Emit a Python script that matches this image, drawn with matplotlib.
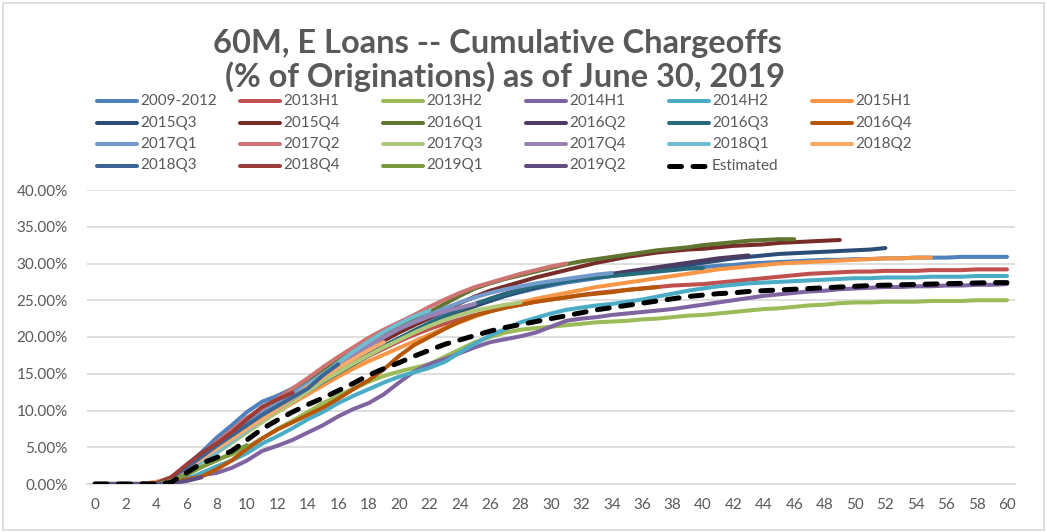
import matplotlib
matplotlib.use('Agg')
import matplotlib.pyplot as plt
from matplotlib.lines import Line2D
from matplotlib.patches import Rectangle
from matplotlib.ticker import FuncFormatter

plt.rcParams['font.family'] = ['Lato', 'DejaVu Sans']

# ---------------- data (cumulative chargeoffs, % of originations) -------------
x_ticks = list(range(0, 61, 2))
y_ticks = [0, 5, 10, 15, 20, 25, 30, 35, 40]

names = ["2009-2012", "2013H1", "2013H2", "2014H1", "2014H2", "2015H1",
         "2015Q3", "2015Q4", "2016Q1", "2016Q2", "2016Q3", "2016Q4",
         "2017Q1", "2017Q2", "2017Q3", "2017Q4", "2018Q1", "2018Q2",
         "2018Q3", "2018Q4", "2019Q1", "2019Q2"]

s_2009_2012 = [0, 0, 0, 0, 0.1, 0.8, 2.5, 4.3, 6.3, 8.0,
               9.8, 11.2, 12.0, 13.0, 14.0, 15.3, 16.5, 17.6, 18.7, 19.8,
               20.8, 21.7, 22.5, 23.2, 23.9, 24.5, 25.1, 25.6, 26.1, 26.6,
               27.0, 27.4, 27.7, 28.0, 28.3, 28.6, 28.8, 29.0, 29.2, 29.4,
               29.5, 29.7, 29.8, 30.0, 30.1, 30.2, 30.3, 30.4, 30.5, 30.5,
               30.6, 30.6, 30.7, 30.7, 30.8, 30.8, 30.8, 30.9, 30.9, 30.9, 30.9]
s_2013H1 = [0, 0, 0, 0, 0.1, 0.7, 2.2, 3.8, 5.6, 7.3,
            9.0, 10.3, 11.0, 11.8, 12.8, 14.0, 15.2, 16.3, 17.4, 18.4,
            19.4, 20.3, 21.1, 21.8, 22.4, 23.0, 23.5, 24.0, 24.4, 24.8,
            25.1, 25.4, 25.7, 26.0, 26.2, 26.4, 26.6, 26.8, 27.0, 27.1,
            27.2, 27.4, 27.6, 27.8, 28.0, 28.2, 28.4, 28.6, 28.7, 28.8,
            28.9, 28.9, 29.0, 29.0, 29.0, 29.1, 29.1, 29.1, 29.2, 29.2, 29.2]
s_2013H2 = [0, 0, 0, 0, 0, 0.3, 1.2, 2.3, 3.3, 4.0,
            5.0, 6.2, 7.5, 8.6, 9.8, 11.0, 12.0, 13.0, 13.9, 14.7,
            15.3, 15.8, 16.3, 17.3, 18.3, 19.3, 20.0, 20.6, 21.0, 21.2,
            21.4, 21.6, 21.8, 22.0, 22.1, 22.2, 22.4, 22.5, 22.7, 22.9,
            23.0, 23.2, 23.4, 23.6, 23.8, 23.9, 24.1, 24.3, 24.4, 24.6,
            24.7, 24.7, 24.8, 24.8, 24.8, 24.9, 24.9, 24.9, 25.0, 25.0, 25.0]
s_2014H1 = [0, 0, 0, 0, 0, 0.2, 0.8, 1.2, 1.5, 2.2,
            3.2, 4.5, 5.2, 6.0, 7.0, 8.0, 9.2, 10.2, 11.0, 12.2,
            13.8, 15.3, 16.3, 17.0, 17.8, 18.6, 19.3, 19.7, 20.1, 20.6,
            21.4, 22.2, 22.5, 22.7, 23.0, 23.2, 23.4, 23.6, 23.8, 24.1,
            24.4, 24.7, 25.0, 25.3, 25.6, 25.8, 26.0, 26.2, 26.3, 26.5,
            26.6, 26.7, 26.8, 26.8, 26.9, 26.9, 27.0, 27.0, 27.1, 27.1, 27.2]
s_2014H2 = [0, 0, 0, 0, 0, 0.1, 0.6, 1.5, 2.4, 3.2,
            4.2, 5.5, 6.5, 7.6, 8.8, 9.8, 11.0, 12.0, 12.9, 13.8,
            14.6, 15.2, 15.8, 16.6, 17.9, 19.1, 20.2, 21.1, 22.0, 22.6,
            23.2, 23.7, 24.0, 24.3, 24.5, 24.8, 25.1, 25.5, 25.9, 26.3,
            26.6, 26.9, 27.1, 27.3, 27.4, 27.5, 27.6, 27.7, 27.8, 27.9,
            28.0, 28.0, 28.1, 28.1, 28.1, 28.2, 28.2, 28.2, 28.3, 28.3, 28.3]
s_2015H1 = [0, 0, 0, 0, 0.2, 0.6, 1.8, 3.2, 4.8, 6.2,
            7.6, 8.8, 9.8, 11.0, 12.2, 13.4, 14.6, 15.7, 16.7, 17.6,
            18.5, 19.4, 20.3, 21.2, 22.0, 22.8, 23.5, 24.1, 24.7, 25.2,
            25.6, 26.0, 26.4, 26.8, 27.1, 27.4, 27.7, 28.0, 28.3, 28.6,
            28.9, 29.2, 29.4, 29.6, 29.8, 30.0, 30.1, 30.2, 30.3, 30.4,
            30.5, 30.6, 30.7, 30.7, 30.8, 30.8]
s_2015Q3 = [0, 0, 0, 0, 0.1, 0.7, 2.0, 3.6, 5.2, 6.6,
            8.0, 9.2, 10.4, 11.6, 12.9, 14.2, 15.4, 16.6, 17.7, 18.8,
            19.8, 20.8, 21.7, 22.6, 23.4, 24.2, 24.9, 25.6, 26.2, 26.7,
            27.2, 27.6, 28.0, 28.3, 28.5, 28.7, 28.9, 29.2, 29.5, 29.8,
            30.1, 30.4, 30.7, 30.9, 31.1, 31.3, 31.4, 31.5, 31.6, 31.7,
            31.8, 31.9, 32.1]
s_2015Q4 = [0, 0, 0, 0, 0.1, 0.8, 2.2, 3.8, 5.4, 6.8,
            8.2, 9.5, 10.8, 12.1, 13.4, 14.7, 16.0, 17.2, 18.4, 19.5,
            20.6, 21.6, 22.6, 23.6, 24.6, 25.5, 26.3, 26.9, 27.5, 28.1,
            28.6, 29.1, 29.6, 30.1, 30.5, 30.9, 31.2, 31.5, 31.7, 31.9,
            32.0, 32.2, 32.4, 32.5, 32.6, 32.8, 32.9, 33.0, 33.1, 33.2]
s_2016Q1 = [0, 0, 0, 0, 0.1, 0.9, 2.3, 3.9, 5.5, 7.0,
            8.5, 9.9, 11.3, 12.7, 14.1, 15.5, 16.8, 18.0, 19.2, 20.3,
            21.4, 22.4, 23.4, 24.5, 25.6, 26.6, 27.3, 27.9, 28.4, 28.9,
            29.4, 29.9, 30.3, 30.6, 30.9, 31.2, 31.5, 31.8, 32.0, 32.2,
            32.5, 32.7, 32.9, 33.1, 33.2, 33.3, 33.3]
s_2016Q2 = [0, 0, 0, 0, 0.1, 0.7, 2.0, 3.4, 4.9, 6.3,
            7.7, 9.0, 10.3, 11.5, 12.8, 14.0, 15.2, 16.4, 17.6, 18.7,
            19.8, 20.8, 21.8, 22.7, 23.6, 24.4, 25.2, 25.9, 26.5, 27.0,
            27.4, 27.7, 28.0, 28.3, 28.6, 28.9, 29.2, 29.5, 29.8, 30.1,
            30.4, 30.7, 30.9, 31.1]
s_2016Q3 = [0, 0, 0, 0, 0.1, 0.6, 1.8, 3.2, 4.6, 6.0,
            7.4, 8.7, 10.0, 11.3, 12.6, 13.9, 15.1, 16.3, 17.5, 18.7,
            19.8, 20.9, 21.9, 22.8, 23.7, 24.5, 25.2, 25.8, 26.4, 26.9,
            27.3, 27.6, 27.9, 28.1, 28.3, 28.5, 28.7, 28.9, 29.1, 29.3,
            29.4]
s_2016Q4 = [0, 0, 0, 0, 0, 0.2, 0.6, 1.0, 2.0, 3.2,
            4.8, 6.2, 7.4, 8.4, 9.4, 10.4, 11.6, 12.9, 14.1, 15.6,
            17.4, 18.9, 20.0, 21.1, 22.1, 22.9, 23.5, 24.0, 24.4, 24.8,
            25.1, 25.4, 25.7, 25.9, 26.1, 26.4, 26.6, 26.8]
s_2017Q1 = [0, 0, 0, 0, 0.1, 0.8, 2.2, 3.8, 5.3, 6.8,
            8.3, 9.7, 11.0, 12.3, 13.6, 15.0, 16.3, 17.6, 18.8, 20.0,
            21.1, 22.1, 23.0, 23.9, 24.7, 25.4, 26.0, 26.5, 26.9, 27.3,
            27.6, 27.9, 28.2, 28.5, 28.7]
s_2017Q2 = [0, 0, 0, 0, 0.1, 0.9, 2.4, 4.0, 5.7, 7.3,
            8.9, 10.3, 11.6, 13.0, 14.4, 15.9, 17.3, 18.6, 19.9, 21.0,
            22.0, 23.0, 24.1, 25.1, 26.0, 26.8, 27.4, 28.0, 28.6, 29.1,
            29.6, 30.0]
s_2017Q3 = [0, 0, 0, 0, 0, 0.5, 1.6, 2.9, 4.2, 5.6,
            7.0, 8.4, 9.8, 11.2, 12.6, 14.0, 15.2, 16.4, 17.5, 18.6,
            19.6, 20.6, 21.5, 22.3, 23.0, 23.6, 24.0, 24.4, 24.7]
s_2017Q4 = [0, 0, 0, 0, 0, 0.6, 1.8, 3.1, 4.5, 5.9,
            7.3, 8.8, 10.2, 11.6, 13.1, 14.6, 16.0, 17.4, 18.7, 20.0,
            21.1, 22.0, 22.8, 23.5, 24.0, 24.5]
s_2018Q1 = [0, 0, 0, 0, 0, 0.5, 1.7, 3.0, 4.3, 5.8,
            7.3, 8.8, 10.3, 11.8, 13.3, 14.9, 16.5, 18.0, 19.4, 20.7,
            21.8, 22.8, 23.6]
s_2018Q2 = [0, 0, 0, 0, 0.3, 0.8, 2.0, 3.4, 4.8, 6.1,
            7.5, 8.8, 10.2, 11.7, 13.2, 14.5, 15.8, 17.0, 18.2, 19.3]
s_2018Q3 = [0, 0, 0, 0, 0.1, 0.8, 2.2, 3.7, 5.2, 6.6,
            8.0, 9.4, 10.6, 11.8, 13.0, 14.8, 16.3]
s_2018Q4 = [0, 0, 0, 0, 0.1, 0.9, 2.6, 4.2, 5.5, 7.0,
            8.8, 10.5, 11.5, 12.4]
s_2019Q1 = [0, 0, 0, 0, 0, 0.4, 1.3, 2.3, 3.2, 4.2, 5.3]
s_2019Q2 = [0, 0, 0, 0, 0, 0.1, 0.4, 0.9]

estimated = [0, 0, 0, 0, 0, 0.2, 1.5, 2.8, 3.6, 4.5,
             6.0, 7.5, 8.7, 9.8, 10.8, 11.7, 12.7, 13.7, 14.8, 15.7,
             16.5, 17.4, 18.2, 19.0, 19.6, 20.2, 20.8, 21.3, 21.7, 22.1,
             22.5, 22.9, 23.3, 23.7, 24.0, 24.3, 24.6, 24.9, 25.2, 25.5,
             25.7, 25.9, 26.0, 26.2, 26.3, 26.4, 26.5, 26.6, 26.7, 26.8,
             26.9, 27.0, 27.05, 27.1, 27.15, 27.2, 27.25, 27.3, 27.35, 27.4, 27.4]

series = [s_2009_2012, s_2013H1, s_2013H2, s_2014H1, s_2014H2, s_2015H1,
          s_2015Q3, s_2015Q4, s_2016Q1, s_2016Q2, s_2016Q3, s_2016Q4,
          s_2017Q1, s_2017Q2, s_2017Q3, s_2017Q4, s_2018Q1, s_2018Q2,
          s_2018Q3, s_2018Q4, s_2019Q1, s_2019Q2]

colors = ["#4F81BD", "#C0504D", "#9BBB59", "#8064A2", "#4BACC6", "#F79646",
          "#2C4D75", "#772C2A", "#5F7530", "#4D3B62", "#276A7C", "#B65708",
          "#729ACA", "#CD7371", "#AFC97A", "#9983B5", "#6FBDD1", "#F9AB6B",
          "#3A6595", "#9A3D3A", "#7A9A3D", "#634D80"]

title_lines = ["60M, E Loans -- Cumulative Chargeoffs",
               "(% of Originations) as of June 30, 2019"]

# ---------------- figure -------------------------------------------------------
W, H = 1047, 532
fig = plt.figure(figsize=(W / 100, H / 100), dpi=100)
fig.patch.set_facecolor('white')

TXT = '#595959'
GRID = '#D9D9D9'

fig.add_artist(Rectangle((3 / W, 2 / H), (1044 - 3) / W, (529 - 2) / H,
                         transform=fig.transFigure, fill=False,
                         edgecolor=GRID, lw=1.2))

x_left, x_right = 87.4, 1014.6
y_top, y_bot = 190, 484
ax = fig.add_axes([x_left / W, 1 - y_bot / H, (x_right - x_left) / W, (y_bot - y_top) / H])
ax.set_xlim(-0.5, 60.5)
ax.set_ylim(0, 40)

for vals, col in zip(series, colors):
    ax.plot(range(len(vals)), vals, color=col, lw=2.9,
            solid_capstyle='round', solid_joinstyle='round', zorder=3)
ax.plot(range(len(estimated)), estimated, color='black', lw=3.6,
        dashes=(2.4, 2.3), dash_capstyle='round', zorder=4)

ax.set_yticks(y_ticks)
ax.yaxis.set_major_formatter(FuncFormatter(lambda v, p: f"{v:.2f}%"))
ax.set_xticks(x_ticks)
ax.set_xticklabels([str(t) for t in x_ticks])
ax.tick_params(axis='both', length=0, labelsize=11, labelcolor=TXT)
ax.tick_params(axis='x', pad=10)
ax.tick_params(axis='y', pad=14)
ax.yaxis.grid(True, color=GRID, lw=1.2)
ax.set_axisbelow(True)
for side in ['top', 'right', 'left']:
    ax.spines[side].set_visible(False)
ax.spines['bottom'].set_color(GRID)
ax.spines['bottom'].set_linewidth(1.2)

# title
fig.text(497 / W, 1 - 53 / H, title_lines[0], ha='center', va='baseline',
         fontsize=23.5, fontweight='bold', color=TXT)
fig.text(505 / W, 1 - 87 / H, title_lines[1], ha='center', va='baseline',
         fontsize=23.5, fontweight='bold', color=TXT)

# legend (row-major, 6 columns)
leg_names = names + ["Estimated"]
leg_cols = colors + ['black']
for k, (nm, col) in enumerate(zip(leg_names, leg_cols)):
    r, c = divmod(k, 6)
    hx = 97 + 143 * c
    hy = 101 + 21.5 * r
    if nm == "Estimated":
        fig.add_artist(Line2D([hx / W, (hx + 40) / W], [1 - hy / H, 1 - hy / H],
                              transform=fig.transFigure, color='black', lw=3.6,
                              dashes=(2.4, 2.3), dash_capstyle='round'))
    else:
        fig.add_artist(Line2D([hx / W, (hx + 40) / W], [1 - hy / H, 1 - hy / H],
                              transform=fig.transFigure, color=col, lw=2.9,
                              solid_capstyle='round'))
    fig.text((hx + 43) / W, 1 - hy / H, nm, ha='left', va='center',
             fontsize=11, color=TXT)

fig.savefig('out.png', dpi=100, facecolor='white')
